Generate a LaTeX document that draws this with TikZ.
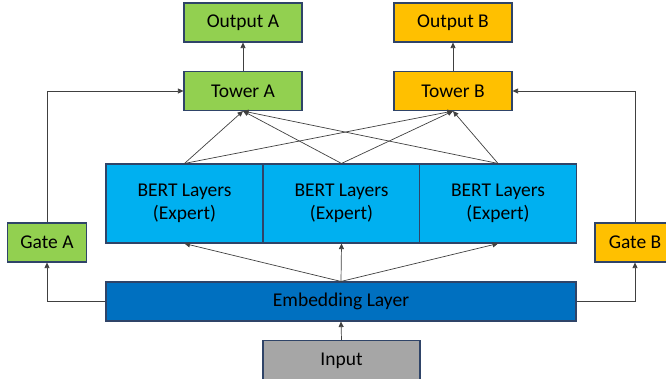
\documentclass[tikz,border=0pt]{standalone}
\usepackage{fontspec}
\setmainfont{Carlito}
\usetikzlibrary{arrows.meta}
\definecolor{grn}{HTML}{92D050}
\definecolor{org}{HTML}{FFC000}
\definecolor{ltblue}{HTML}{00B0F0}
\definecolor{dkblue}{HTML}{0070C0}
\definecolor{gry}{HTML}{A6A6A6}
\definecolor{edge}{HTML}{2F4468}
\begin{document}
\begin{tikzpicture}[x=1pt,y=-1pt,
    box/.style={draw=edge,line width=1.1pt,inner sep=0pt,
      font=\fontsize{19.5}{23.5}\selectfont,align=center},
    small/.style={box,minimum width=118pt,minimum height=39pt},
    link/.style={draw=black!75,line width=0.7pt,-{Triangle[length=5.5pt,width=5pt]}}]
  \useasboundingbox (0,0) rectangle (666,379);
  \node[small,fill=grn] (outA) at (243,22.5) {Output A};
  \node[small,fill=grn] (towA) at (243,91) {Tower A};
  \node[small,fill=org] (outB) at (453,22.5) {Output B};
  \node[small,fill=org] (towB) at (453,91) {Tower B};
  \node[box,fill=grn,minimum width=79pt,minimum height=39pt] (gateA) at (47,242.5) {Gate A};
  \node[box,fill=org,minimum width=80pt,minimum height=39pt] (gateB) at (635,242.5) {Gate B};
  \foreach \i/\x in {1/184.5,2/341.5,3/498}{
    \node[box,fill=ltblue,minimum width=157pt,minimum height=79pt] (exp\i) at (\x,203.5)
      {BERT Layers\\(Expert)};
  }
  \node[box,fill=dkblue,minimum width=470pt,minimum height=39pt] (emb) at (341,301.5) {Embedding Layer};
  \node[box,fill=gry,minimum width=157pt,minimum height=40pt] (inp) at (341.5,360.5) {Input};
  \draw[link] (inp.north) -- (emb.south);
  \foreach \i in {1,2,3}{
    \draw[link] (emb.north) -- (exp\i.south);
    \draw[link] (exp\i.north) -- (towA.south);
    \draw[link] (exp\i.north) -- (towB.south);
  }
  \draw[link] (towA.north) -- (outA.south);
  \draw[link] (towB.north) -- (outB.south);
  \draw[link] (emb.west) -| (gateA.south);
  \draw[link] (emb.east) -| (gateB.south);
  \draw[link] (gateA.north) |- (towA.west);
  \draw[link] (gateB.north) |- (towB.east);
\end{tikzpicture}
\end{document}
